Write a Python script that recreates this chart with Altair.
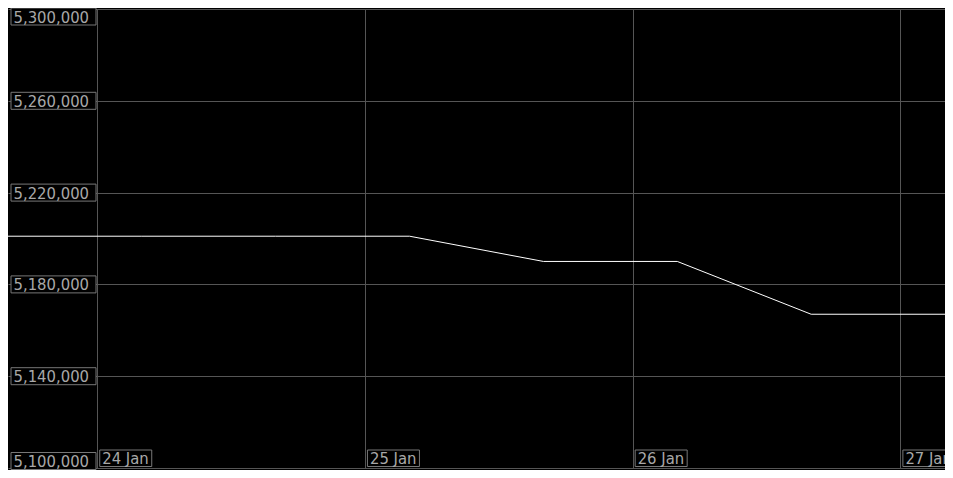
import altair as alt
import pandas as pd

# ---- data ----
times = ["2024-01-23T16:00", "2024-01-24T04:00", "2024-01-24T16:00", "2024-01-25T04:00",
         "2024-01-25T16:00", "2024-01-26T04:00", "2024-01-26T16:00", "2024-01-27T04:00"]
values = [5201000, 5201000, 5201000, 5201000, 5190000, 5190000, 5167000, 5167000]
x_ticks = ["2024-01-24T00:00", "2024-01-25T00:00", "2024-01-26T00:00", "2024-01-27T00:00"]
y_ticks = [5100000, 5140000, 5180000, 5220000, 5260000, 5300000]

W, H = 937, 459
GRID = "#555555"
TXT = "#a8a8a8"
BOX = "#777777"
FONT = "DejaVu Sans Condensed"
FS = 16.5

line_df = pd.DataFrame({"t": times, "v": values})
xt_df = pd.DataFrame({"t": x_ticks})

xscale = alt.Scale(domain=[alt.DateTime(year=2024, month=1, date=23, hours=16),
                           alt.DateTime(year=2024, month=1, date=27, hours=4)])
yscale = alt.Scale(domain=[min(y_ticks), max(y_ticks)], nice=False, zero=False)

x_vals = [alt.DateTime(year=2024, month=1, date=d) for d in (24, 25, 26, 27)]

line = alt.Chart(line_df).mark_line(color="white", strokeWidth=1).encode(
    x=alt.X("t:T", scale=xscale,
            axis=alt.Axis(values=x_vals, grid=True, gridColor=GRID, gridWidth=1,
                          labels=False, ticks=False, domain=False, title=None)),
    y=alt.Y("v:Q", scale=yscale,
            axis=alt.Axis(values=y_ticks, grid=True, gridColor=GRID, gridWidth=1,
                          labels=False, ticks=False, domain=False, title=None)),
)

# x labels (boxed)
xbase = alt.Chart(xt_df).encode(x=alt.X("t:T", scale=xscale))
xbox = xbase.mark_rect(fill="black", stroke=BOX, strokeWidth=1, xOffset=2.5, x2Offset=54.5).encode(
    x2="t:T", y=alt.value(H - 18), y2=alt.value(H - 1.5))
xtxt = xbase.mark_text(align="left", baseline="middle", color=TXT, fontSize=FS, font=FONT, dx=5).encode(
    y=alt.value(H - 9), text=alt.Text("t:T", format="%d %b"))


def ylabels(ticks, dy):
    df = pd.DataFrame({"v": ticks})
    base = alt.Chart(df).encode(y=alt.Y("v:Q", scale=yscale))
    box = base.mark_rect(fill="black", stroke=BOX, strokeWidth=1,
                         yOffset=dy - 8.5, y2Offset=dy + 8.5).encode(
        x=alt.value(3), x2=alt.value(88), y2="v:Q")
    txt = base.mark_text(align="left", baseline="middle", color=TXT, fontSize=FS,
                         font=FONT, dy=dy + 1).encode(
        x=alt.value(5.5), text=alt.Text("v:Q", format=","))
    return [box, txt]


layers = [line, xbox, xtxt]
layers += ylabels(y_ticks[1:-1], 0)
layers += ylabels([max(y_ticks)], 7.5)
layers += ylabels([min(y_ticks)], -7)

chart = alt.layer(*layers).properties(
    width=W, height=H,
    autosize=alt.AutoSizeParams(type="none"),
    padding={"left": 0, "top": 1, "right": 0, "bottom": 2},
    background="black",
).configure_view(strokeWidth=0)

chart.save("out.html", embed_options={"renderer": "svg", "actions": False})
